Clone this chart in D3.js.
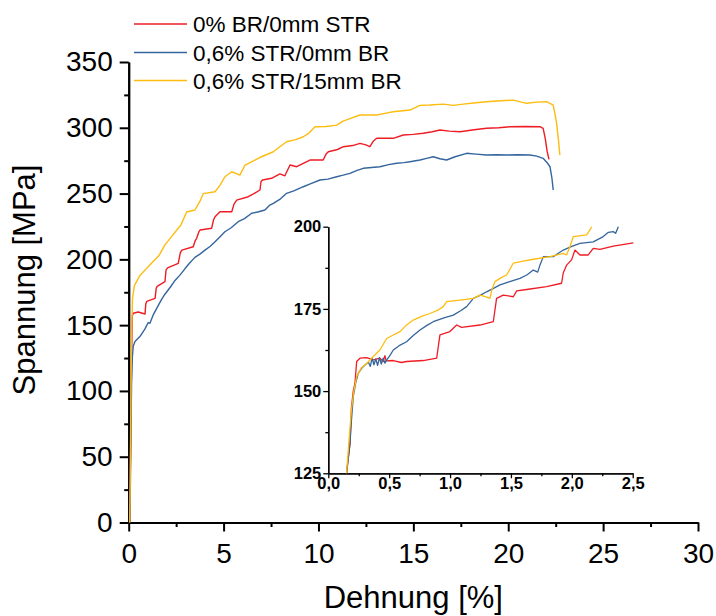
<!DOCTYPE html>
<html>
<head>
<meta charset="utf-8">
<script src="https://cdn.jsdelivr.net/npm/d3@7"></script>
<style>
  body { margin: 0; background: #fff; }
  svg { display: block; }
  text { font-family: "Liberation Sans", Arial, sans-serif; fill: #000; }
</style>
</head>
<body>
<svg id="chart" width="716" height="616"></svg>
<script>
// Legend entries and line colours
const seriesNames = ["0% BR/0mm STR", "0,6% STR/0mm BR", "0,6% STR/15mm BR"];
const seriesColors = ["#ee1c25", "#34659c", "#fcbc10"];

// Main curves: [Dehnung %, Spannung MPa]
const curveRed = [[0.05,0],[0.10,55],[0.14,110],[0.17,140],[0.19,157],[0.24,159],[0.5,160],[0.86,158.5],[0.9,166],[0.95,168],[1.39,170.4],[1.45,178],[1.5,179.5],[1.91,183],[1.97,192],[2.05,193.5],[2.61,197],[2.72,205],[2.8,207],[3.4,209.6],[3.5,214],[3.58,216],[3.7,221],[3.76,222.3],[4.37,223.6],[4.47,230],[4.55,232.4],[4.81,236.2],[5.43,236.2],[5.55,242],[5.69,245],[6.3,247.6],[6.6,250],[6.92,252.7],[6.97,259],[7.05,260.3],[7.53,261.6],[7.97,265],[8.23,263.5],[8.5,271.7],[8.85,270.4],[9.2,273],[9.55,275.5],[10.25,275.5],[10.4,280],[10.52,281.8],[11.0,283.5],[11.31,285.6],[11.8,286.5],[12.19,288.2],[12.5,287],[12.71,285.6],[12.9,290],[13.07,292],[13.94,292],[14.47,294.5],[15.0,295],[15.52,295.8],[16.0,297],[16.4,298.3],[16.9,297.5],[17.46,297],[18.2,298.5],[18.86,299.6],[19.5,300],[20.09,300.8],[20.9,301],[21.67,300.8],[21.84,299.6],[21.95,292],[22.05,282],[22.15,276]];
const curveBlue = [[0.05,0],[0.09,30],[0.12,70],[0.15,105],[0.19,125],[0.24,134],[0.33,137.5],[0.6,141.5],[0.85,147],[1.03,152],[1.12,151.4],[1.3,158],[1.56,165],[1.75,170],[1.91,173.5],[2.2,179],[2.44,184],[2.7,188],[2.97,193],[3.2,197],[3.49,201.5],[3.75,204],[4.02,207],[4.3,210],[4.55,213.4],[4.8,217],[5.07,221],[5.4,224],[5.77,228.6],[6.1,231],[6.48,235],[6.8,236],[7.18,237.5],[7.44,241.3],[7.62,242.6],[8.0,246],[8.32,250.2],[8.7,252],[9.2,255.2],[9.6,257.5],[10.08,260.3],[10.5,261],[10.96,262.8],[11.3,264],[11.66,265.4],[12.0,267.5],[12.36,269.2],[12.8,269.8],[13.24,270.4],[13.7,272],[14.12,273],[14.5,273.5],[14.82,274.2],[15.35,275.5],[15.7,276.8],[16.05,278],[16.4,276.5],[16.75,275.5],[17.2,278],[17.81,280.6],[18.3,280],[18.86,279.3],[19.4,279.5],[19.92,279.3],[20.5,279.5],[21.14,279.3],[21.5,278.5],[21.84,276.8],[22.05,273.5],[22.2,270.4],[22.3,262],[22.37,252.7]];
const curveYellow = [[0.05,0],[0.08,30],[0.1,65],[0.12,100],[0.15,140],[0.2,170],[0.3,180],[0.6,188],[1.0,194],[1.3,198.5],[1.6,203],[1.91,211],[2.3,218],[2.61,223.6],[2.75,226],[3.05,236],[3.49,237.5],[3.75,244],[3.93,250],[4.55,251.4],[4.8,256],[5.07,262.8],[5.43,266.6],[5.86,264],[6.13,271.7],[6.6,275],[7.0,278],[7.62,281.8],[8.0,286],[8.32,289.4],[8.8,291],[9.2,293.2],[9.5,296],[9.82,300.8],[10.4,301],[10.96,302],[11.3,305],[11.66,307],[12.19,309.7],[13.07,309.7],[13.5,311],[13.94,312.2],[14.82,313.5],[15.35,317],[15.87,317.3],[16.58,318],[17.1,317],[17.63,318],[18.3,319],[18.86,319.8],[19.6,320.5],[20.26,321],[20.97,318.6],[21.5,319.5],[22.02,319.8],[22.37,317.3],[22.47,310],[22.55,303.4],[22.65,290],[22.72,279.3]];

// Detail of the yield region (inset)
const insetRed = [[0.15,125],[0.178,134],[0.19,145],[0.205,150],[0.219,152.4],[0.233,159],[0.26,160],[0.315,160.2],[0.37,159.5],[0.424,160],[0.45,159],[0.465,160.8],[0.475,159.2],[0.534,159.3],[0.6,158.7],[0.643,159],[0.78,159.3],[0.89,160],[0.905,164],[0.917,167.1],[0.999,168.1],[1.054,170.1],[1.095,169.4],[1.246,170.1],[1.355,171.1],[1.37,175],[1.382,178.2],[1.437,179.2],[1.519,178.7],[1.547,180.5],[1.629,180.9],[1.793,181.8],[1.916,182.8],[1.93,186],[1.957,188.3],[1.998,189.9],[2.026,192.9],[2.067,191.4],[2.135,191.4],[2.176,193.4],[2.231,193.1],[2.34,194.1],[2.505,195.1]];
const insetBlue = [[0.15,125],[0.178,134],[0.19,141],[0.205,148.3],[0.225,152.5],[0.246,155.4],[0.275,157],[0.301,157.9],[0.33,158.8],[0.345,157.5],[0.36,160],[0.375,158],[0.39,159.8],[0.405,157.8],[0.42,160.2],[0.435,158.2],[0.45,160],[0.465,158.5],[0.479,159.5],[0.5,160.5],[0.534,162.5],[0.59,164],[0.643,165],[0.7,167],[0.753,168.6],[0.81,170],[0.862,171.1],[0.95,172.3],[1.027,173.1],[1.09,174.5],[1.136,175.7],[1.165,177],[1.191,178.2],[1.25,179.2],[1.3,180.2],[1.36,181.3],[1.41,182.3],[1.49,183.3],[1.574,184.3],[1.63,185.3],[1.684,186.8],[1.72,186.2],[1.738,188.3],[1.766,190.9],[1.848,190.9],[1.93,192.9],[2.0,194],[2.067,194.9],[2.176,195.4],[2.258,197],[2.3,198.3],[2.34,198.5],[2.36,198],[2.382,200]];
const insetYellow = [[0.15,125],[0.17,135],[0.19,144.3],[0.21,150],[0.233,154.4],[0.27,157],[0.315,158.4],[0.37,160.5],[0.424,162.5],[0.479,166],[0.53,167],[0.589,168.1],[0.64,170],[0.698,171.6],[0.77,172.8],[0.835,173.6],[0.9,174.6],[0.944,175.7],[0.972,177.2],[1.081,177.7],[1.191,178.2],[1.246,179.2],[1.29,178.7],[1.328,178.2],[1.345,181],[1.369,183.3],[1.42,184.5],[1.465,185.3],[1.49,187],[1.519,188.9],[1.6,189.5],[1.684,190.1],[1.82,190.9],[1.93,191.9],[1.957,191.4],[1.985,194],[2.012,197],[2.121,197.5],[2.14,198.5],[2.163,200]];

// Tick values
const xTicksMain = [0, 5, 10, 15, 20, 25, 30];
const xMinorMain = [2.5, 7.5, 12.5, 17.5, 22.5, 27.5];
const yTicksMain = [0, 50, 100, 150, 200, 250, 300, 350];
const yMinorMain = [25, 75, 125, 175, 225, 275, 325];
const xTicksInset = [0, 0.5, 1.0, 1.5, 2.0, 2.5];
const xMinorInset = [0.25, 0.75, 1.25, 1.75, 2.25];
const yTicksInset = [125, 150, 175, 200];
const yMinorInset = [137.5, 162.5, 187.5];

const svg = d3.select("#chart");

// ---- main plot ----
const main = { left: 128.7, right: 698, top: 62, bottom: 522.5 };
const x = d3.scaleLinear().domain([0, 30]).range([main.left, main.right]);
const y = d3.scaleLinear().domain([0, 350]).range([main.bottom, main.top]);

function styleAxis(g, width, size, weight) {
  g.select(".domain").attr("stroke", "#000").attr("stroke-width", width);
  g.selectAll(".tick line").attr("stroke", "#000").attr("stroke-width", width);
  g.selectAll("text").attr("font-size", size).attr("fill", "#000")
    .attr("font-weight", weight || "normal")
    .attr("font-family", '"Liberation Sans", Arial, sans-serif');
}

// minor ticks first, then major axes on top
svg.append("g").attr("transform", `translate(0,${main.bottom})`)
  .call(d3.axisBottom(x).tickValues(xMinorMain).tickSize(4.5).tickSizeOuter(0).tickFormat(""))
  .call(g => styleAxis(g, 2, 0));
svg.append("g").attr("transform", `translate(${main.left},0)`)
  .call(d3.axisLeft(y).tickValues(yMinorMain).tickSize(4.5).tickSizeOuter(0).tickFormat(""))
  .call(g => styleAxis(g, 2, 0));

svg.append("g").attr("transform", `translate(0,${main.bottom})`)
  .call(d3.axisBottom(x).tickValues(xTicksMain).tickSize(9).tickSizeOuter(0).tickPadding(12).tickFormat(d3.format("d")))
  .call(g => styleAxis(g, 2, 28));
svg.append("g").attr("transform", `translate(${main.left},0)`)
  .call(d3.axisLeft(y).tickValues(yTicksMain).tickSize(9).tickSizeOuter(0).tickPadding(7).tickFormat(d3.format("d")))
  .call(g => styleAxis(g, 2, 28));

// axis titles
svg.append("text")
  .attr("x", (main.left + main.right) / 2).attr("y", 608)
  .attr("text-anchor", "middle").attr("font-size", 31)
  .text("Dehnung [%]");
svg.append("text")
  .attr("transform", "translate(35,280) rotate(-90)")
  .attr("text-anchor", "middle").attr("font-size", 31)
  .text("Spannung [MPa]");

const lineMain = d3.line().x(d => x(d[0])).y(d => y(d[1]));
[curveRed, curveBlue, curveYellow].forEach((c, i) => {
  svg.append("path").datum(c)
    .attr("d", lineMain)
    .attr("fill", "none")
    .attr("stroke", seriesColors[i])
    .attr("stroke-width", 1.4)
    .attr("stroke-linejoin", "round");
});

// ---- legend ----
const legend = svg.append("g");
const legendY = [24, 52.5, 80.5];
seriesNames.forEach((name, i) => {
  legend.append("line")
    .attr("x1", 134).attr("x2", 187)
    .attr("y1", legendY[i]).attr("y2", legendY[i])
    .attr("stroke", seriesColors[i]).attr("stroke-width", 1.4);
  legend.append("text")
    .attr("x", 193).attr("y", legendY[i]).attr("dy", "0.36em")
    .attr("font-size", 22.5)
    .text(name);
});

// ---- inset ----
const inset = { left: 328.3, right: 632.7, top: 226.7, bottom: 473.3 };
const xi = d3.scaleLinear().domain([0, 2.5]).range([inset.left, inset.right]);
const yi = d3.scaleLinear().domain([125, 200]).range([inset.bottom, inset.top]);
const commaFmt = d => d.toFixed(1).replace(".", ",");

svg.append("g").attr("transform", `translate(0,${inset.bottom})`)
  .call(d3.axisBottom(xi).tickValues(xMinorInset).tickSize(3).tickSizeOuter(0).tickFormat(""))
  .call(g => styleAxis(g, 1.3, 0));
svg.append("g").attr("transform", `translate(${inset.left},0)`)
  .call(d3.axisLeft(yi).tickValues(yMinorInset).tickSize(3).tickSizeOuter(0).tickFormat(""))
  .call(g => styleAxis(g, 1.3, 0));

svg.append("g").attr("transform", `translate(0,${inset.bottom})`)
  .call(d3.axisBottom(xi).tickValues(xTicksInset).tickSize(5).tickSizeOuter(0).tickFormat(commaFmt))
  .call(g => styleAxis(g, 1.3, 16.5, "bold"))
  .call(g => g.selectAll("text").attr("y", 4));
svg.append("g").attr("transform", `translate(${inset.left},0)`)
  .call(d3.axisLeft(yi).tickValues(yTicksInset).tickSize(5).tickSizeOuter(0).tickPadding(2).tickFormat(d3.format("d")))
  .call(g => styleAxis(g, 1.3, 16.5, "bold"));

const lineInset = d3.line().x(d => xi(d[0])).y(d => yi(d[1]));
[insetRed, insetBlue, insetYellow].forEach((c, i) => {
  svg.append("path").datum(c)
    .attr("d", lineInset)
    .attr("fill", "none")
    .attr("stroke", seriesColors[i])
    .attr("stroke-width", 1.3)
    .attr("stroke-linejoin", "round");
});
</script>
</body>
</html>
